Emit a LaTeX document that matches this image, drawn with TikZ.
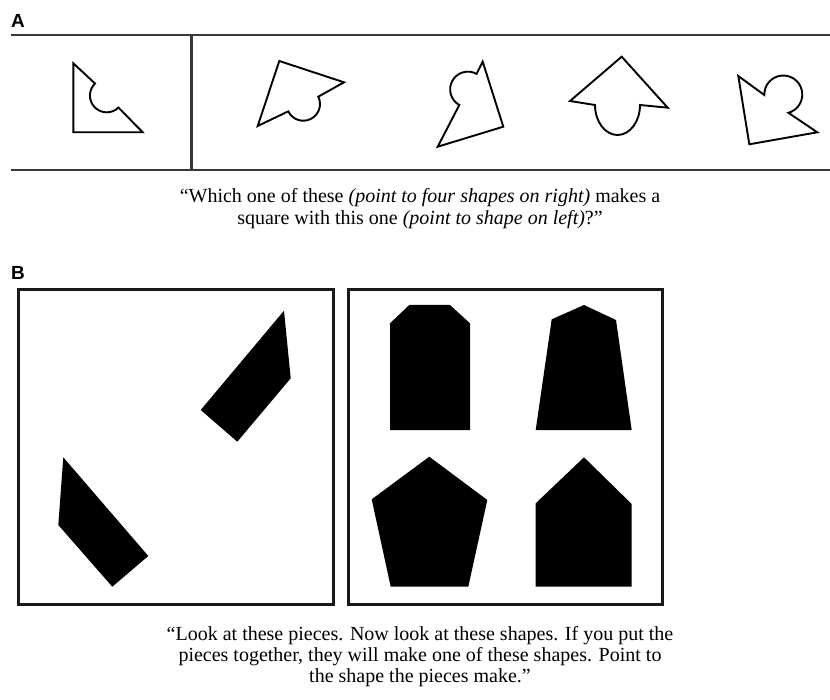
\documentclass[tikz,border=0pt]{standalone}
\usepackage{fontspec}
\setmainfont{Liberation Serif}
\newfontfamily\lblfont{Liberation Sans}
\begin{document}
\begin{tikzpicture}[x=1pt,y=-1pt,
  frameline/.style={line width=2.2pt,draw=black!78},
  outl/.style={line width=1.9pt,draw=black,line join=miter},
  piece/.style={fill=black,draw=none},
  boxline/.style={line width=3pt,draw=black!90},
  captxt/.style={font=\fontsize{20}{22}\selectfont,inner sep=0pt,anchor=base},
  paneltag/.style={font=\lblfont\bfseries\fontsize{19}{19}\selectfont,inner sep=0pt,anchor=base west}]
\useasboundingbox[fill=white] (0,0) rectangle (830,700);

% ---------------- Panel A ----------------
\node[paneltag] (tagA) at (11,28) {A};
\coordinate (topL) at (11,34.7);
\coordinate (topR) at (830,34.7);
\coordinate (botL) at (11,170);
\coordinate (botR) at (830,170);
\coordinate (divT) at (191.5,34.7);
\coordinate (divB) at (191.5,170);
\draw[frameline] (topL) -- (topR);
\draw[frameline] (botL) -- (botR);
\draw[frameline] (divT) -- (divB);

% reference shape (left)
\draw[outl] (73.3,63.3) -- (95,83.5) arc[start angle=225.7,end angle=45.7,radius=16.8]
  -- (142.7,132.3) -- (73.3,132.3) -- cycle;
% choice 1
\draw[outl] (279.3,61) -- (344,82.3) -- (318.3,96.7) arc[start angle=-26,end angle=154,radius=16.7]
  -- (257.7,126) -- cycle;
% choice 2
\draw[outl] (482.7,61.7) -- (503.3,126.7) -- (437.7,146.7) -- (459.3,105)
  arc[start angle=119,end angle=299,radius=17.8] -- cycle;
% choice 3
\draw[outl] (621.7,56.7) -- (667.7,107.7) -- (640,105)
  arc[start angle=0,end angle=180,x radius=22.5,y radius=30] -- (570,101) -- cycle;
% choice 4
\draw[outl] (738.3,76) -- (764.3,95) arc[start angle=178.5,end angle=434.4,radius=19]
  -- (817.3,132.3) -- (749.3,144.3) -- cycle;

\node[captxt] (capA1) at (420,203) {``Which one of these \textit{(point to four shapes on right)} makes a};
\node[captxt] (capA2) at (420,225) {square with this one \textit{(point to shape on left)}?''};

% ---------------- Panel B ----------------
\node[paneltag] (tagB) at (11,280) {B};
\node[boxline,draw,minimum width=315.6pt,minimum height=314.4pt,inner sep=0pt,anchor=north west] (boxL) at (16.7,288.3) {};
\node[boxline,draw,minimum width=314pt,minimum height=314.4pt,inner sep=0pt,anchor=north west] (boxR) at (346.7,288.3) {};

% pieces
\fill[piece] (284,310.7) -- (290.7,378.3) -- (237.3,441.7) -- (200.7,410) -- cycle;
\fill[piece] (63.3,457.3) -- (148.3,556) -- (112.3,586.7) -- (58.3,525) -- cycle;

% candidate shapes
\fill[piece] (390,323.3) -- (409.3,305) -- (450,305) -- (470,323.3) -- (470,430) -- (390,430) -- cycle;
\fill[piece] (551.7,319.3) -- (584,305) -- (616,320) -- (631.7,430) -- (535.7,430) -- cycle;
\fill[piece] (429.3,456.7) -- (487.3,500) -- (468.3,586.7) -- (390.7,586.7) -- (371.7,499.3) -- cycle;
\fill[piece] (584,457.3) -- (631.7,504) -- (631.7,586.7) -- (535.7,586.7) -- (535.7,503.3) -- cycle;

\node[captxt] (capB1) at (420,640) {``Look at these pieces. Now look at these shapes. If you put the};
\node[captxt] (capB2) at (420,661) {pieces together, they will make one of these shapes. Point to};
\node[captxt] (capB3) at (420,682) {the shape the pieces make.''};
\end{tikzpicture}
\end{document}
